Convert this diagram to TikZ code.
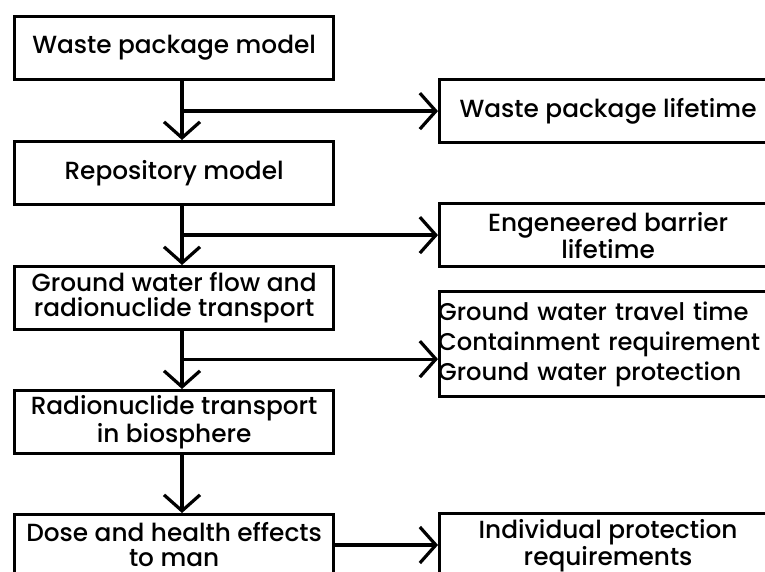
\documentclass[tikz,border=0pt]{standalone}
\usepackage{fontspec}
\setmainfont{Poppins Medium}
\usetikzlibrary{arrows.meta,calc}

\begin{document}
\begin{tikzpicture}[x=0.5pt,y=-0.5pt,
    font=\fontsize{12.4}{12.5}\selectfont,
    model/.style={draw, line width=1.6pt, minimum width=159.5pt, minimum height=31.5pt, inner sep=0pt, align=center, anchor=north west},
    result/.style={draw, line width=1.6pt, minimum width=168.5pt, minimum height=31.5pt, inner sep=0pt, align=center, anchor=north west},
    flow/.style={line width=1.6pt, -{Straight Barb[length=8pt,width=18pt]}}]

  \useasboundingbox (0,0) rectangle (765,572);
  \clip (0,0) rectangle (765,572);

  % model chain
  \node[model] (wpm) at (13,15) {Waste package model};
  \node[model] (rep) at (13,140) {Repository model};
  \node[model] (gwf) at (13,265) {Ground water flow and\\radionuclide transport};
  \node[model] (bio) at (13,389) {Radionuclide transport\\in biosphere};
  \node[model, minimum height=30pt] (dose) at (13,513) {Dose and health effects\\to man};

  % results
  \node[result] (wpl) at (438,78) {Waste package lifetime};
  \node[result, font=\fontsize{12.4}{13.5}\selectfont] (ebl) at (438,202) {Engeneered barrier\\lifetime};
  \node[result, minimum height=52.5pt, align=left, text width=170pt, inner xsep=-1pt,
        font=\fontsize{12.1}{15}\selectfont] (gwt) at (438,290)
        {Ground water travel time\\Containment requirement\\Ground water protection};
  \node[result, minimum height=32pt, font=\fontsize{12.4}{13.5}\selectfont] (ipr) at (438,512) {Individual protection\\requirements};

  \coordinate (spine) at (182,0);
  \coordinate (gwtin) at ($(gwt.west)+(0,15)$);
  \coordinate (doseout) at ($(dose.north east)+(0,32)$);

  \draw[flow] (wpm.south -| spine) -- (rep.north -| spine);
  \draw[flow] (rep.south -| spine) -- (gwf.north -| spine);
  \draw[flow] (gwf.south -| spine) -- (bio.north -| spine);
  \draw[flow] (bio.south -| spine) -- (dose.north -| spine);

  \draw[flow] (spine |- wpl.west) -- (wpl.west);
  \draw[flow] (spine |- ebl.west) -- (ebl.west);
  \draw[flow] (spine |- gwtin) -- (gwtin);
  \draw[flow] (doseout) -- (doseout -| ipr.west);
\end{tikzpicture}
\end{document}
